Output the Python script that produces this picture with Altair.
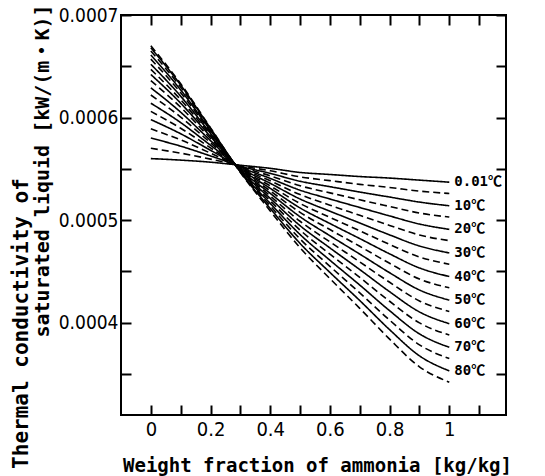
import altair as alt
import pandas as pd

# weight fraction of ammonia (x positions where values were read)
x_frac = [0.0, 0.1, 0.2, 0.3, 0.4, 0.5, 0.6, 0.7, 0.8, 0.9, 1.0]

# temperature series names and line style
temps = ["0.01", "5", "10", "15", "20", "25", "30", "35", "40",
         "45", "50", "55", "60", "65", "70", "75", "80", "85"]
styles = ["solid", "dashed"] * 9

# thermal conductivity values, in 1e-6 kW/(m K)
k_t00 = [560, 558.5, 556.5, 553.5, 550.5, 546.5, 544.5, 542.5, 541, 539, 537]
k_t05 = [570, 565.3, 559.5, 553.1, 548.1, 542.2, 538.5, 534.9, 531.8, 528.3, 526]
k_t10 = [580, 572.1, 562.6, 552.7, 545.6, 537.9, 532.6, 527.4, 522.5, 517.6, 514]
k_t15 = [589, 578.2, 565.3, 552.3, 543.2, 533.5, 526.6, 519.8, 513.3, 506.9, 503]
k_t20 = [598, 584.2, 568.1, 551.9, 540.7, 529.2, 520.6, 512.3, 504.1, 496.2, 491]
k_t25 = [606, 589.6, 570.5, 551.4, 538.3, 524.9, 514.6, 504.7, 494.8, 485.5, 480]
k_t30 = [614, 595.1, 573.0, 551.0, 535.9, 520.6, 508.7, 497.2, 485.6, 474.8, 468]
k_t35 = [622, 600.5, 575.4, 550.6, 533.4, 516.2, 502.7, 489.6, 476.3, 464.1, 457]
k_t40 = [629, 605.2, 577.5, 550.2, 531.0, 511.9, 496.7, 482.0, 467.1, 453.4, 445]
k_t45 = [636, 610.0, 579.6, 549.8, 528.5, 507.6, 490.8, 474.5, 457.9, 442.6, 434]
k_t50 = [642, 614.0, 581.5, 549.4, 526.1, 503.3, 484.8, 466.9, 448.7, 431.9, 422]
k_t55 = [647, 617.4, 583.0, 549.0, 523.6, 498.9, 478.8, 459.3, 439.4, 421.2, 411]
k_t60 = [652, 620.8, 584.5, 548.6, 521.2, 494.6, 472.9, 451.8, 430.2, 410.5, 399]
k_t65 = [657, 624.2, 586.0, 548.1, 518.8, 490.3, 466.9, 444.2, 420.9, 399.8, 388]
k_t70 = [661, 626.9, 587.3, 547.7, 516.3, 486.0, 460.9, 436.7, 411.7, 389.1, 376]
k_t75 = [665, 629.6, 588.5, 547.3, 513.9, 481.6, 455.0, 429.1, 402.5, 378.4, 365]
k_t80 = [668, 631.7, 589.4, 546.9, 511.4, 477.3, 449.0, 421.6, 393.2, 367.7, 353]
k_t85 = [670, 633.0, 590.0, 546.5, 509.0, 473.0, 443.0, 414.0, 384.0, 357.0, 342]

series = [k_t00, k_t05, k_t10, k_t15, k_t20, k_t25, k_t30, k_t35, k_t40,
          k_t45, k_t50, k_t55, k_t60, k_t65, k_t70, k_t75, k_t80, k_t85]

# end-of-line labels (solid lines only)
label_texts = ["0.01℃", "10℃", "20℃", "30℃", "40℃", "50℃", "60℃", "70℃", "80℃"]

# axis tick values / labels
x_ticks = [0.0, 0.1, 0.2, 0.3, 0.4, 0.5, 0.6, 0.7, 0.8, 0.9, 1.0, 1.1]
y_ticks = [0.00035, 0.0004, 0.00045, 0.0005, 0.00055, 0.0006, 0.00065, 0.0007]

x_title = "Weight fraction of ammonia [kg/kg]"
y_title_1 = "Thermal conductivity of"
y_title_2 = "saturated liquid [kW/(m・K)]"

rows = []
for t, st, vals in zip(temps, styles, series):
    for x, v in zip(x_frac, vals):
        rows.append({"x": x, "k": v * 1e-6, "T": t, "style": st})
df = pd.DataFrame(rows)

lab_rows = []
solid_series = [s for s, st in zip(series, styles) if st == "solid"]
for txt, vals in zip(label_texts, solid_series):
    lab_rows.append({"x": x_frac[-1], "k": vals[-1] * 1e-6, "text": txt})
lab_df = pd.DataFrame(lab_rows)

xscale = alt.Scale(domain=[-0.1, 1.19], nice=False, zero=False)
yscale = alt.Scale(domain=[0.00031, 0.0007], nice=False, zero=False)

tick_font = "DejaVu Sans Condensed, Liberation Sans, sans-serif"
mono_font = "DejaVu Sans Mono, Noto Sans CJK JP, monospace"

x_axis_main = alt.Axis(
    values=x_ticks, orient="bottom", offset=-10, tickSize=10, tickWidth=2,
    tickColor="black", domain=False, grid=False, title=None,
    labelExpr="round(datum.value*10) % 2 == 0 ? format(datum.value, '~g') : ''",
    labelFont=tick_font, labelFontSize=20, labelColor="black",
    labelPadding=4, labelOverlap=False, labelFlush=False)
y_axis_main = alt.Axis(
    values=y_ticks, orient="left", offset=-10, tickSize=10, tickWidth=2,
    tickColor="black", domain=False, grid=False, title=None,
    labelExpr="round(datum.value*1e5) % 10 == 0 ? format(datum.value, '.4f') : ''",
    labelFont=tick_font, labelFontSize=19, labelColor="black",
    labelPadding=3, labelOverlap=False, labelFlush=False)
x_axis_top = alt.Axis(
    values=x_ticks, orient="top", offset=-10, tickSize=10, tickWidth=2,
    tickColor="black", domain=False, grid=False, title=None, labels=False)
y_axis_right = alt.Axis(
    values=y_ticks, orient="right", offset=-10, tickSize=10, tickWidth=2,
    tickColor="black", domain=False, grid=False, title=None, labels=False)

base = alt.Chart(df)

lines = base.mark_line(color="black", strokeWidth=1.6, interpolate="monotone").encode(
    x=alt.X("x:Q", scale=xscale, axis=x_axis_main),
    y=alt.Y("k:Q", scale=yscale, axis=y_axis_main),
    detail="T:N",
    strokeDash=alt.StrokeDash("style:N",
                              scale=alt.Scale(domain=["solid", "dashed"],
                                              range=[[1, 0], [7, 4]]),
                              legend=None),
)

ghost = base.mark_point(opacity=0).encode(
    x=alt.X("x:Q", scale=xscale, axis=x_axis_top),
    y=alt.Y("k:Q", scale=yscale, axis=y_axis_right),
)

labels = alt.Chart(lab_df).mark_text(
    align="left", baseline="middle", dx=5, font=mono_font, fontSize=14,
    fontWeight="bold", color="black").encode(
    x=alt.X("x:Q", scale=xscale, axis=None),
    y=alt.Y("k:Q", scale=yscale, axis=None),
    text="text:N",
)

xt = alt.Chart(pd.DataFrame({"t": [x_title]})).mark_text(
    align="center", baseline="middle", font=mono_font, fontSize=19,
    fontWeight="bold", color="black").encode(
    x=alt.value(196.5), y=alt.value(451), text="t:N")

yt1 = alt.Chart(pd.DataFrame({"t": [y_title_1]})).mark_text(
    align="center", baseline="middle", angle=270, font=mono_font, fontSize=21,
    fontWeight="bold", color="black").encode(
    x=alt.value(-99), y=alt.value(308.5), text="t:N")

yt2 = alt.Chart(pd.DataFrame({"t": [y_title_2]})).mark_text(
    align="center", baseline="middle", angle=270, font=mono_font, fontSize=20,
    fontWeight="bold", color="black").encode(
    x=alt.value(-78), y=alt.value(156), text="t:N")

chart = alt.layer(lines, ghost, labels, xt, yt1, yt2).resolve_axis(
    x="independent", y="independent"
).properties(
    width=385, height=400,
    autosize=alt.AutoSizeParams(type="none"),
    padding={"left": 121, "top": 15, "right": 39, "bottom": 61},
    background="white",
).configure_view(stroke="black", strokeWidth=2)

chart.save("out.html", embed_options={"renderer": "svg", "actions": False})
